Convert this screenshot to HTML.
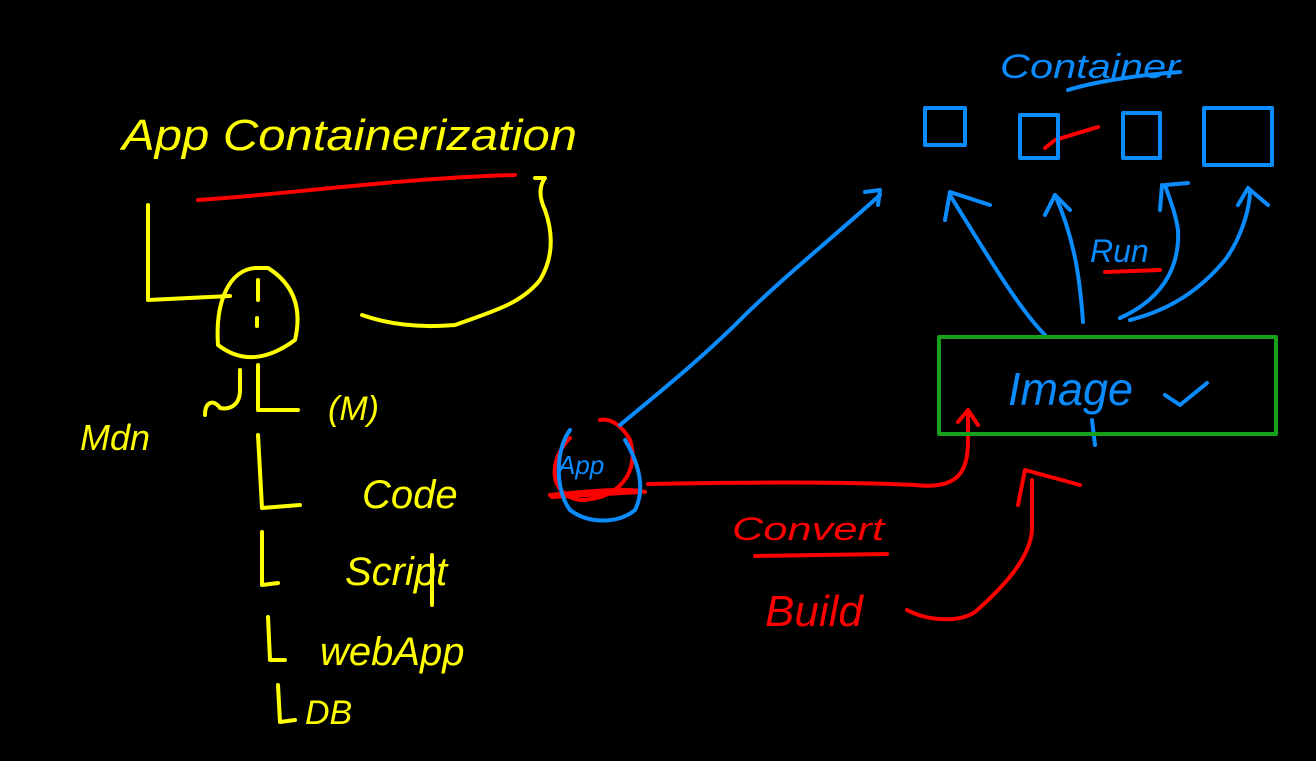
<!DOCTYPE html>
<html><head><meta charset="utf-8"><style>
html,body{margin:0;padding:0;background:#000;width:1316px;height:761px;overflow:hidden}
svg{display:block}
text{font-family:"Liberation Sans",sans-serif}
</style></head><body>
<svg width="1316" height="761" viewBox="0 0 1316 761" xmlns="http://www.w3.org/2000/svg">
<rect width="1316" height="761" fill="#000"/>
<g fill="none" stroke-linecap="round" stroke-linejoin="round">
<!-- yellow -->
<g stroke="#ffff00" stroke-width="4">
<path d="M148 205 L148 300 L230 296"/>
<path d="M255 268 C230 270 215 300 218 345 C240 362 265 362 295 340 C302 310 295 285 268 268 Z"/>
<path d="M258 280 L258 300 M257 318 L257 326"/>
<path d="M362 315 C390 325 420 328 455 325 C490 312 520 305 540 280 C555 255 552 230 545 210 C538 195 540 185 545 178 L535 178"/>
<path d="M258 365 L258 410 L298 410"/>
<path d="M205 415 C205 400 215 400 220 408 C230 410 240 405 240 390 L240 370"/>
<path d="M258 435 L262 508 L300 505"/>
<path d="M262 532 L262 585 L278 583"/>
<path d="M268 617 L270 660 L285 660"/>
<path d="M278 685 L280 722 L295 720"/>
<path d="M432 555 L432 605"/>
</g>
<!-- red -->
<g stroke="#ff0000" stroke-width="4">
<path d="M198 200 C280 195 400 178 515 175"/>
<path d="M550 495 C600 490 630 488 645 492 M648 484 C750 482 850 482 915 485 C960 490 968 470 968 440 L968 412 M958 422 L968 410 L978 425"/>
<path d="M570 438 C548 460 548 495 580 500 C620 500 640 470 630 440 C622 425 610 418 600 420"/>
<path d="M552 497 L640 492"/>
<path d="M755 556 L887 554"/>
<path d="M1105 272 L1160 270"/>
<path d="M1045 148 L1055 140 L1098 127"/>
<path d="M907 610 C930 622 960 622 975 612 C1000 590 1030 560 1032 530 L1032 480 M1018 505 L1025 470 L1080 485"/>
</g>
<!-- blue -->
<g stroke="#0a8cff" stroke-width="4">
<rect x="925" y="108" width="40" height="37"/>
<rect x="1020" y="115" width="38" height="43"/>
<rect x="1123" y="113" width="37" height="45"/>
<rect x="1204" y="108" width="68" height="57"/>
<path d="M1068 90 C1100 80 1150 74 1180 72"/>
<path d="M620 425 C650 400 700 360 740 320 C780 280 830 240 880 195 M865 192 L880 190 L878 205"/>
<path d="M570 430 C555 450 555 490 570 510 C590 525 620 523 635 510 C645 490 640 465 625 440"/>
<path d="M1045 335 C1020 310 990 260 950 195 M945 220 L950 192 L990 205"/>
<path d="M1083 322 C1080 280 1075 240 1055 195 M1045 215 L1055 195 L1070 210"/>
<path d="M1120 318 C1160 300 1180 270 1178 230 C1175 210 1168 195 1165 185 L1188 183 M1160 210 L1162 185"/>
<path d="M1130 320 C1170 310 1200 290 1225 260 C1240 240 1250 210 1250 190 M1238 205 L1248 188 L1268 205"/>
<path d="M1165 395 L1180 405 L1207 383"/>
<path d="M1092 420 L1095 445"/>
</g>
<rect x="939" y="337" width="337" height="97" stroke="#17a11a" stroke-width="4"/>
</g>
<g font-style="italic">
<text x="122" y="150" font-size="44" fill="#ffff00" textLength="455" lengthAdjust="spacingAndGlyphs">App Containerization</text>
<text x="80" y="450" font-size="36" fill="#ffff00">Mdn</text>
<text x="328" y="420" font-size="34" fill="#ffff00">(M)</text>
<text x="362" y="508" font-size="40" fill="#ffff00">Code</text>
<text x="345" y="585" font-size="40" fill="#ffff00">Script</text>
<text x="320" y="665" font-size="40" fill="#ffff00">webApp</text>
<text x="305" y="724" font-size="34" fill="#ffff00">DB</text>
<text x="1000" y="78" font-size="34" fill="#0a8cff" textLength="180" lengthAdjust="spacingAndGlyphs">Container</text>
<text x="1090" y="262" font-size="32" fill="#0a8cff">Run</text>
<text x="1008" y="405" font-size="46" fill="#0a8cff" textLength="125" lengthAdjust="spacingAndGlyphs">Image</text>
<text x="558" y="474" font-size="26" fill="#0a8cff">App</text>
<text x="732" y="540" font-size="32" fill="#ff0000" textLength="152" lengthAdjust="spacingAndGlyphs">Convert</text>
<text x="765" y="626" font-size="44" fill="#ff0000">Build</text>
</g>
</svg>
</body></html>
